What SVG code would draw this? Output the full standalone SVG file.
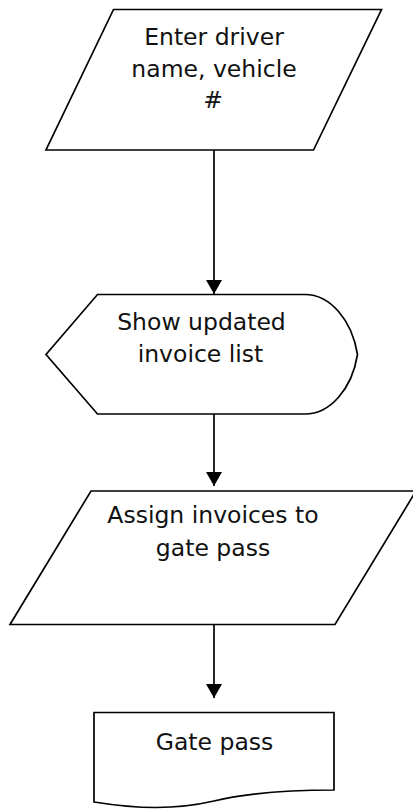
<svg xmlns="http://www.w3.org/2000/svg" width="413" height="809" viewBox="0 0 413 809">
  <style>
    .shape { fill: #ffffff; stroke: #000000; stroke-width: 1.7; stroke-linejoin: miter; }
    .conn { fill: none; stroke: #000000; stroke-width: 1.7; }
    .label { font-family: "DejaVu Sans", Verdana, sans-serif; font-size: 23.5px; fill: #111111; text-anchor: middle; }
  </style>
  <defs>
    <marker id="arrow" viewBox="0 0 14 16" refX="14" refY="8" markerWidth="14" markerHeight="16" markerUnits="userSpaceOnUse" orient="auto">
      <path d="M0,0 L14,8 L0,16 Z" fill="#000000"/>
    </marker>
  </defs>
  <rect x="0" y="0" width="413" height="809" fill="#ffffff"/>

  <g id="connectors">
    <path class="conn" d="M214,150 L214,294" marker-end="url(#arrow)"/>
    <path class="conn" d="M214,414 L214,486" marker-end="url(#arrow)"/>
    <path class="conn" d="M214,624 L214,698" marker-end="url(#arrow)"/>
  </g>

  <g id="enter-driver">
    <polygon class="shape" points="113.5,9.5 381.5,9.5 313.5,150 46,150"/>
    <text class="label" x="214" y="45">Enter driver</text>
    <text class="label" x="214" y="77">name, vehicle</text>
    <text class="label" x="213" y="108">#</text>
  </g>

  <g id="show-invoice-list">
    <path class="shape" d="M97.5,294.5 L305,294.5 C330,294.5 352,320 357.5,354.5 C352,389 330,414 305,414 L97.5,414 L46,354.5 Z"/>
    <text class="label" x="201.5" y="330">Show updated</text>
    <text class="label" x="200.5" y="361.5">invoice list</text>
  </g>

  <g id="assign-invoices">
    <polygon class="shape" points="91,491 416,491 335,624.5 10,624.5"/>
    <text class="label" x="213" y="523">Assign invoices to</text>
    <text class="label" x="213" y="556">gate pass</text>
  </g>

  <g id="gate-pass">
    <path class="shape" d="M94,712.5 L334,712.5 L334,790 C290,790 252,792 214,801 C175,810 138,809 94,802 Z"/>
    <text class="label" x="214.5" y="750">Gate pass</text>
  </g>
</svg>
